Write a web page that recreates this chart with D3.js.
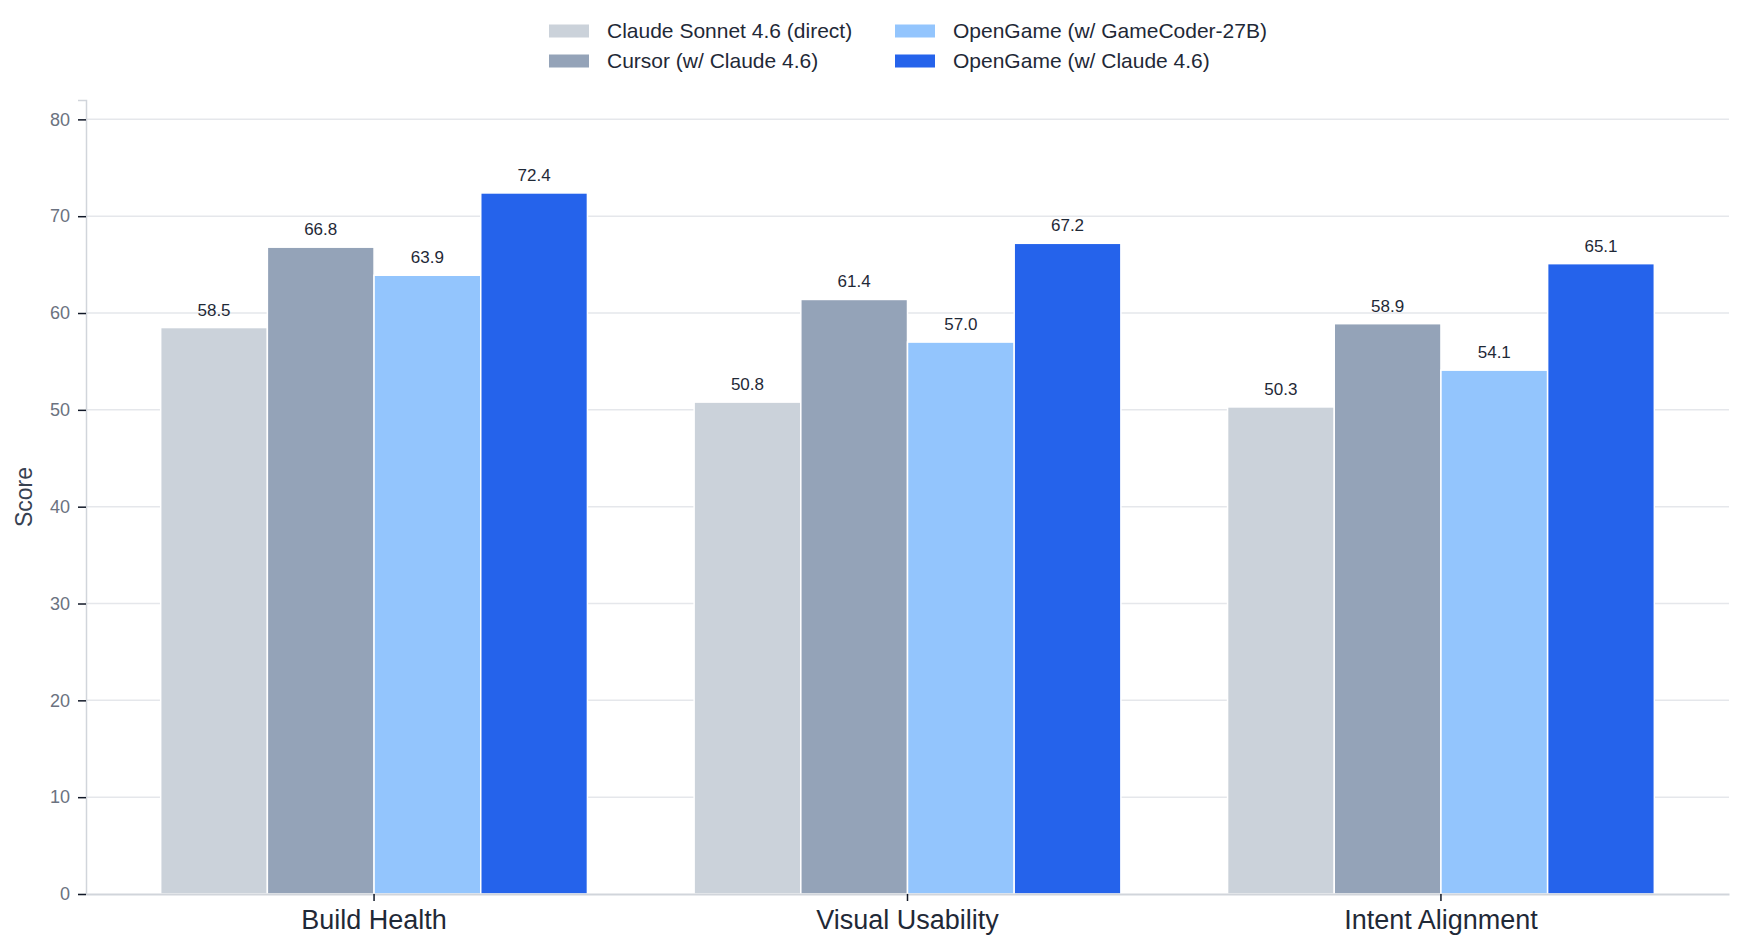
<!DOCTYPE html>
<html>
<head>
<meta charset="utf-8">
<script src="https://cdn.jsdelivr.net/npm/d3@7"></script>
<style>
  html, body { margin: 0; padding: 0; background: #fff; }
  #chart { width: 1744px; height: 950px; }
  text { font-family: "Liberation Sans", Arial, Helvetica, sans-serif; }
</style>
</head>
<body>
<div id="chart"></div>
<script>
// ===========================
// Grouped bar chart: scores by metric
// ===========================

const categories = ['Build Health', 'Visual Usability', 'Intent Alignment'];
const seriesNames = [
    'Claude Sonnet 4.6 (direct)',
    'Cursor (w/ Claude 4.6)',
    'OpenGame (w/ GameCoder-27B)',
    'OpenGame (w/ Claude 4.6)'
];
const seriesColors = ['#cbd2da', '#94a3b8', '#93c5fd', '#2563eb'];

// one array per series, in category order
const claudeDirect = [58.5, 50.8, 50.3];
const cursorClaude = [66.8, 61.4, 58.9];
const openGameCoder = [63.9, 57.0, 54.1];
const openGameClaude = [72.4, 67.2, 65.1];
const seriesValues = [claudeDirect, cursorClaude, openGameCoder, openGameClaude];

const yTicks = [0, 10, 20, 30, 40, 50, 60, 70, 80];
const yMax = 82;

const width = 1744;
const height = 950;
const margin = { top: 100, right: 15, bottom: 56, left: 86 };

const svg = d3.select('#chart')
    .append('svg')
    .attr('width', width)
    .attr('height', height);

const x = d3.scaleBand()
    .domain(categories)
    .range([margin.left, width - margin.right])
    .paddingInner(0.2)
    .paddingOuter(0.14);

const xInner = d3.scaleBand()
    .domain(d3.range(seriesNames.length))
    .range([0, x.bandwidth()])
    .padding(0);

const y = d3.scaleLinear()
    .domain([0, yMax])
    .range([height - margin.bottom, margin.top]);

// grid lines
svg.append('g')
    .selectAll('line')
    .data(yTicks.filter(d => d > 0))
    .join('line')
    .attr('x1', margin.left)
    .attr('x2', width - margin.right)
    .attr('y1', d => y(d))
    .attr('y2', d => y(d))
    .attr('stroke', '#e5e7eb')
    .attr('stroke-width', 1.5);

// y axis
const yAxis = svg.append('g')
    .attr('transform', `translate(${margin.left},0)`)
    .call(d3.axisLeft(y).tickValues(yTicks).tickSize(8).tickPadding(8));
yAxis.select('.domain').attr('stroke', '#d1d5db').attr('stroke-width', 1.5);
yAxis.selectAll('.tick line').attr('stroke', '#111827').attr('stroke-width', 1.5);
yAxis.selectAll('.tick text')
    .attr('fill', '#6b7280')
    .attr('font-size', '18px')
    .attr('font-family', '"Liberation Sans", Arial, sans-serif');

// bars
const data = [];
categories.forEach((c, ci) => {
    seriesValues.forEach((vals, si) => {
        data.push({ category: c, series: si, value: vals[ci] });
    });
});

const bars = svg.append('g');
bars.selectAll('rect')
    .data(data)
    .join('rect')
    .attr('x', d => x(d.category) + xInner(d.series))
    .attr('y', d => y(d.value))
    .attr('width', xInner.bandwidth())
    .attr('height', d => y(0) - y(d.value))
    .attr('fill', d => seriesColors[d.series])
    .attr('stroke', '#fff')
    .attr('stroke-width', 1.5);

bars.selectAll('text')
    .data(data)
    .join('text')
    .attr('x', d => x(d.category) + xInner(d.series) + xInner.bandwidth() / 2)
    .attr('y', d => y(d.value) - 12)
    .attr('text-anchor', 'middle')
    .attr('font-size', '17px')
    .attr('fill', '#1f2937')
    .text(d => d.value.toFixed(1));

// x axis
const xAxis = svg.append('g')
    .attr('transform', `translate(0,${y(0)})`)
    .call(d3.axisBottom(x).tickSize(7).tickPadding(9).tickSizeOuter(0));
xAxis.select('.domain').attr('stroke', '#d1d5db').attr('stroke-width', 2);
xAxis.selectAll('.tick line').attr('stroke', '#111827').attr('stroke-width', 1.5);
xAxis.selectAll('.tick text')
    .attr('fill', '#1f2937')
    .attr('font-size', '27px')
    .attr('font-family', '"Liberation Sans", Arial, sans-serif');

// y axis title
svg.append('text')
    .attr('transform', `translate(32,${(y(0) + y(yMax)) / 2}) rotate(-90)`)
    .attr('text-anchor', 'middle')
    .attr('font-size', '23px')
    .attr('fill', '#374151')
    .text('Score');

// legend: two columns, two rows
const legendCols = [549, 895];
const legendRows = [31, 61];
const legend = svg.append('g')
    .selectAll('g')
    .data(seriesNames)
    .join('g')
    .attr('transform', (d, i) => `translate(${legendCols[Math.floor(i / 2)]},${legendRows[i % 2]})`);

legend.append('rect')
    .attr('x', 0)
    .attr('y', -6.5)
    .attr('width', 40)
    .attr('height', 13)
    .attr('fill', (d, i) => seriesColors[i]);

legend.append('text')
    .attr('x', 58)
    .attr('y', 0)
    .attr('dy', '0.35em')
    .attr('font-size', '21px')
    .attr('fill', '#1f2937')
    .text(d => d);
</script>
</body>
</html>
